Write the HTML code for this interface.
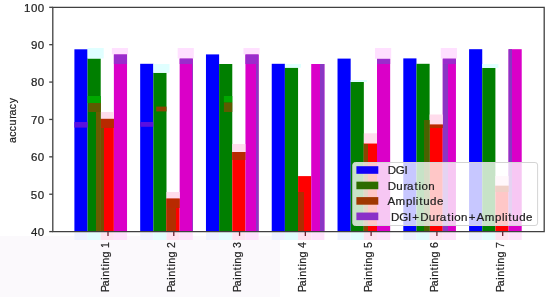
<!DOCTYPE html>
<html><head><meta charset="utf-8"><style>
html,body{margin:0;padding:0;background:#fff;}
body{width:550px;height:297px;overflow:hidden;}
svg{display:block;will-change:transform;}
text{font-family:"Liberation Sans",sans-serif;fill:#222;stroke:#222;stroke-width:0.2px;}
</style></head><body>
<svg width="550" height="297" viewBox="0 0 550 297">
<rect width="550" height="297" fill="#fff"/>
<rect x="0" y="236" width="280" height="61" fill="#fbf9fc"/>
<rect x="74.4" y="232.3" width="13.16" height="7.7" fill="#eef2ff"/>
<rect x="87.56" y="232.3" width="13.16" height="7.7" fill="#e2fdfd"/>
<rect x="100.72" y="232.3" width="13.16" height="7.7" fill="#ffe2f0"/>
<rect x="113.88" y="232.3" width="13.16" height="7.7" fill="#ffe2fb"/>
<rect x="140.18" y="232.3" width="13.16" height="7.7" fill="#eef2ff"/>
<rect x="153.34" y="232.3" width="13.16" height="7.7" fill="#e2fdfd"/>
<rect x="166.5" y="232.3" width="13.16" height="7.7" fill="#ffe2f0"/>
<rect x="179.66" y="232.3" width="13.16" height="7.7" fill="#ffe2fb"/>
<rect x="205.96" y="232.3" width="13.16" height="7.7" fill="#eef2ff"/>
<rect x="219.12" y="232.3" width="13.16" height="7.7" fill="#e2fdfd"/>
<rect x="232.28" y="232.3" width="13.16" height="7.7" fill="#ffe2f0"/>
<rect x="245.44" y="232.3" width="13.16" height="7.7" fill="#ffe2fb"/>
<rect x="271.74" y="232.3" width="13.16" height="7.7" fill="#eef2ff"/>
<rect x="284.9" y="232.3" width="13.16" height="7.7" fill="#e2fdfd"/>
<rect x="298.06" y="232.3" width="13.16" height="7.7" fill="#ffe2f0"/>
<rect x="311.22" y="232.3" width="13.16" height="7.7" fill="#ffe2fb"/>
<rect x="337.52" y="232.3" width="13.16" height="7.7" fill="#eef2ff"/>
<rect x="350.68" y="232.3" width="13.16" height="7.7" fill="#e2fdfd"/>
<rect x="363.84" y="232.3" width="13.16" height="7.7" fill="#ffe2f0"/>
<rect x="377" y="232.3" width="13.16" height="7.7" fill="#ffe2fb"/>
<rect x="403.3" y="232.3" width="13.16" height="7.7" fill="#eef2ff"/>
<rect x="416.46" y="232.3" width="13.16" height="7.7" fill="#e2fdfd"/>
<rect x="429.62" y="232.3" width="13.16" height="7.7" fill="#ffe2f0"/>
<rect x="442.78" y="232.3" width="13.16" height="7.7" fill="#ffe2fb"/>
<rect x="469.08" y="232.3" width="13.16" height="7.7" fill="#eef2ff"/>
<rect x="482.24" y="232.3" width="13.16" height="7.7" fill="#e2fdfd"/>
<rect x="495.4" y="232.3" width="13.16" height="7.7" fill="#ffe2f0"/>
<rect x="508.56" y="232.3" width="13.16" height="7.7" fill="#ffe2fb"/>
<rect x="74.4" y="49.3" width="13.16" height="182.3" fill="#0000ff"/>
<rect x="87.56" y="58.5" width="13.16" height="173.1" fill="#007f00"/>
<rect x="100.72" y="118.8" width="13.16" height="112.8" fill="#ff0000"/>
<rect x="113.88" y="54.4" width="13.16" height="177.2" fill="#da00c8"/>
<rect x="140.18" y="63.8" width="13.16" height="167.8" fill="#0000ff"/>
<rect x="153.34" y="72.8" width="13.16" height="158.8" fill="#007f00"/>
<rect x="166.5" y="198.5" width="13.16" height="33.1" fill="#ff0000"/>
<rect x="179.66" y="58.5" width="13.16" height="173.1" fill="#da00c8"/>
<rect x="205.96" y="54.4" width="13.16" height="177.2" fill="#0000ff"/>
<rect x="219.12" y="64" width="13.16" height="167.6" fill="#007f00"/>
<rect x="232.28" y="152" width="13.16" height="79.6" fill="#ff0000"/>
<rect x="245.44" y="54.4" width="13.16" height="177.2" fill="#da00c8"/>
<rect x="271.74" y="63.8" width="13.16" height="167.8" fill="#0000ff"/>
<rect x="284.9" y="67.7" width="13.16" height="163.9" fill="#007f00"/>
<rect x="298.06" y="176.1" width="13.16" height="55.5" fill="#ff0000"/>
<rect x="311.22" y="64" width="13.16" height="167.6" fill="#da00c8"/>
<rect x="337.52" y="58.6" width="13.16" height="173" fill="#0000ff"/>
<rect x="350.68" y="82" width="13.16" height="149.6" fill="#007f00"/>
<rect x="363.84" y="143.3" width="13.16" height="88.3" fill="#ff0000"/>
<rect x="377" y="58.8" width="13.16" height="172.8" fill="#da00c8"/>
<rect x="403.3" y="58.4" width="13.16" height="173.2" fill="#0000ff"/>
<rect x="416.46" y="63.8" width="13.16" height="167.8" fill="#007f00"/>
<rect x="429.62" y="124.5" width="13.16" height="107.1" fill="#ff0000"/>
<rect x="442.78" y="58.6" width="13.16" height="173" fill="#da00c8"/>
<rect x="469.08" y="49.2" width="13.16" height="182.4" fill="#0000ff"/>
<rect x="482.24" y="67.9" width="13.16" height="163.7" fill="#007f00"/>
<rect x="495.4" y="185.7" width="13.16" height="45.9" fill="#ff0000"/>
<rect x="508.56" y="49.2" width="13.16" height="182.4" fill="#da00c8"/>
<rect x="111.88" y="48" width="16.16" height="6.4" fill="#ffe0ff"/>
<rect x="113.88" y="54.4" width="13.16" height="9.6" fill="#9a2ccc"/>
<rect x="87.56" y="48" width="16.16" height="10.5" fill="#e0ffff"/>
<rect x="100.72" y="112" width="13.16" height="6.8" fill="#ffdcec"/>
<rect x="100.72" y="118.8" width="13.16" height="9.2" fill="#b82a00"/>
<rect x="177.66" y="48" width="16.16" height="10.5" fill="#ffe0ff"/>
<rect x="179.66" y="58.5" width="13.16" height="5.5" fill="#9a2ccc"/>
<rect x="192" y="64" width="0.82" height="167.6" fill="#8a36c4"/>
<rect x="153.34" y="64" width="16.16" height="8.8" fill="#e0ffff"/>
<rect x="166.5" y="192" width="13.16" height="6.5" fill="#ffdcec"/>
<rect x="166.5" y="198.5" width="13.16" height="9.5" fill="#b82a00"/>
<rect x="243.44" y="48" width="16.16" height="6.4" fill="#ffe0ff"/>
<rect x="245.44" y="54.4" width="13.16" height="9.6" fill="#9a2ccc"/>
<rect x="256" y="64" width="2.6" height="167.6" fill="#8a36c4"/>
<rect x="232.28" y="144" width="13.16" height="8" fill="#ffdcec"/>
<rect x="232.28" y="152" width="13.16" height="8" fill="#b82a00"/>
<rect x="320" y="64" width="4.38" height="167.6" fill="#8a36c4"/>
<rect x="284.9" y="64" width="16.16" height="3.7" fill="#e0ffff"/>
<rect x="375" y="48" width="16.16" height="10.8" fill="#ffe0ff"/>
<rect x="377" y="58.8" width="13.16" height="5.2" fill="#9a2ccc"/>
<rect x="350.68" y="80" width="16.16" height="2" fill="#e0ffff"/>
<rect x="363.84" y="133.3" width="13.16" height="10" fill="#ffdcec"/>
<rect x="440.78" y="48" width="16.16" height="10.6" fill="#ffe0ff"/>
<rect x="442.78" y="58.6" width="13.16" height="5.4" fill="#9a2ccc"/>
<rect x="442.78" y="64" width="5.22" height="167.6" fill="#8a36c4"/>
<rect x="429.62" y="114.5" width="13.16" height="10" fill="#ffdcec"/>
<rect x="429.62" y="124.5" width="13.16" height="3.5" fill="#b82a00"/>
<rect x="508.56" y="49.2" width="3.44" height="167.6" fill="#8a36c4"/>
<rect x="482.24" y="64" width="16.16" height="3.9" fill="#e0ffff"/>
<rect x="495.4" y="176" width="13.16" height="9.7" fill="#ffdcec"/>
<rect x="495.4" y="185.7" width="13.16" height="6.3" fill="#b82a00"/>
<rect x="166.5" y="208" width="9.5" height="23.6" fill="#b03000"/>
<rect x="298.06" y="192" width="5.94" height="39.6" fill="#b02c00"/>
<rect x="363.84" y="144" width="4.16" height="87.6" fill="#8a4600"/>
<rect x="96" y="100" width="4.72" height="131.6" fill="#6a5c00"/>
<rect x="100.72" y="128" width="3.28" height="103.6" fill="#7a4c00"/>
<rect x="424" y="120" width="5.62" height="111.6" fill="#4a6200"/>
<rect x="87.56" y="96" width="13.16" height="7" fill="#00a800"/>
<rect x="88.36" y="103" width="12.36" height="9" fill="#5e5a00"/>
<rect x="74.4" y="122" width="13.16" height="5.6" fill="#5a10e0"/>
<rect x="156.2" y="106.6" width="10.3" height="4.8" fill="#8a4400"/>
<rect x="140.18" y="122" width="13.16" height="4.8" fill="#5a10e0"/>
<rect x="223.9" y="96" width="8.38" height="6.5" fill="#00a800"/>
<rect x="223.9" y="102.5" width="8.38" height="9.5" fill="#5e5a00"/>
<path d="M52.8 7.3 H544.2 V231.6 H52.8 Z" fill="none" stroke="#404040" stroke-width="1.3"/>
<line x1="49.2" y1="231.6" x2="52.8" y2="231.6" stroke="#404040" stroke-width="1.3"/>
<text transform="translate(31.19,235.9) scale(1.09,1)" x="-0.26 6.11" y="0" font-size="10.6" xml:space="preserve">40</text>
<line x1="49.2" y1="194.22" x2="52.8" y2="194.22" stroke="#404040" stroke-width="1.3"/>
<text transform="translate(31.49,198.52) scale(1.09,1)" x="-0.58 5.82" y="0" font-size="10.6" xml:space="preserve">50</text>
<line x1="49.2" y1="156.83" x2="52.8" y2="156.83" stroke="#404040" stroke-width="1.3"/>
<text transform="translate(31.42,161.13) scale(1.09,1)" x="-0.47 5.9" y="0" font-size="10.6" xml:space="preserve">60</text>
<line x1="49.2" y1="119.45" x2="52.8" y2="119.45" stroke="#404040" stroke-width="1.3"/>
<text transform="translate(31.55,123.75) scale(1.09,1)" x="-0.61 5.77" y="0" font-size="10.6" xml:space="preserve">70</text>
<line x1="49.2" y1="82.07" x2="52.8" y2="82.07" stroke="#404040" stroke-width="1.3"/>
<text transform="translate(31.39,86.37) scale(1.09,1)" x="-0.45 5.91" y="0" font-size="10.6" xml:space="preserve">80</text>
<line x1="49.2" y1="44.68" x2="52.8" y2="44.68" stroke="#404040" stroke-width="1.3"/>
<text transform="translate(31.34,48.98) scale(1.09,1)" x="-0.43 5.96" y="0" font-size="10.6" xml:space="preserve">90</text>
<line x1="49.2" y1="7.3" x2="52.8" y2="7.3" stroke="#404040" stroke-width="1.3"/>
<text transform="translate(24.92,11.6) scale(1.09,1)" x="-0.92 5.49 11.86" y="0" font-size="10.6" xml:space="preserve">100</text>
<line x1="108" y1="231.6" x2="108" y2="235.9" stroke="#6a2030" stroke-width="1.3"/>
<text transform="translate(109.1,290.6) rotate(-90) scale(1,1.09)" x="-1.34 4.34 10.94 13.75 20.3 23.98 26.79 33.05 39.23 42.58" y="0" font-size="10.6" xml:space="preserve">Painting 1</text>
<line x1="173.78" y1="231.6" x2="173.78" y2="235.9" stroke="#6a2030" stroke-width="1.3"/>
<text transform="translate(174.88,290.6) rotate(-90) scale(1,1.09)" x="-1.34 4.34 10.94 13.75 20.3 23.98 26.79 33.05 39.23 42.51" y="0" font-size="10.6" xml:space="preserve">Painting 2</text>
<line x1="239.56" y1="231.6" x2="239.56" y2="235.9" stroke="#6a2030" stroke-width="1.3"/>
<text transform="translate(240.66,290.6) rotate(-90) scale(1,1.09)" x="-1.34 4.34 10.94 13.75 20.3 23.98 26.79 33.05 39.23 42.65" y="0" font-size="10.6" xml:space="preserve">Painting 3</text>
<line x1="305.34" y1="231.6" x2="305.34" y2="235.9" stroke="#6a2030" stroke-width="1.3"/>
<text transform="translate(306.44,290.6) rotate(-90) scale(1,1.09)" x="-1.34 4.34 10.94 13.75 20.3 23.98 26.79 33.05 39.23 42.64" y="0" font-size="10.6" xml:space="preserve">Painting 4</text>
<line x1="371.12" y1="231.6" x2="371.12" y2="235.9" stroke="#6a2030" stroke-width="1.3"/>
<text transform="translate(372.22,290.6) rotate(-90) scale(1,1.09)" x="-1.34 4.34 10.94 13.75 20.3 23.98 26.79 33.05 39.23 42.6" y="0" font-size="10.6" xml:space="preserve">Painting 5</text>
<line x1="436.9" y1="231.6" x2="436.9" y2="235.9" stroke="#6a2030" stroke-width="1.3"/>
<text transform="translate(438,290.6) rotate(-90) scale(1,1.09)" x="-1.34 4.34 10.94 13.75 20.3 23.98 26.79 33.05 39.23 42.64" y="0" font-size="10.6" xml:space="preserve">Painting 6</text>
<line x1="502.68" y1="231.6" x2="502.68" y2="235.9" stroke="#6a2030" stroke-width="1.3"/>
<text transform="translate(503.78,290.6) rotate(-90) scale(1,1.09)" x="-1.34 4.34 10.94 13.75 20.3 23.98 26.79 33.05 39.23 42.62" y="0" font-size="10.6" xml:space="preserve">Painting 7</text>
<text transform="translate(16.4,142.2) rotate(-90) scale(1,1.09)" x="-0.86 5.51 11 16.72 23.34 26.71 33.08 38.91" y="0" font-size="10.6" xml:space="preserve">accuracy</text>
<rect x="352.8" y="162.5" width="184.8" height="63" rx="2.5" fill="#fff" fill-opacity="0.78" stroke="#d4d4d4" stroke-width="1"/>
<rect x="356.4" y="166.2" width="21.9" height="7.6" fill="#1000f8"/>
<text transform="translate(388.67,174.4) scale(1.09,1)" x="-0.94 6.47 14.47" y="0" font-size="10.6" xml:space="preserve">DGI</text>
<rect x="356.4" y="181.65" width="21.9" height="7.6" fill="#2d6b00"/>
<text transform="translate(388.67,189.85) scale(1.09,1)" x="-0.94 6.92 13.54 16.91 23.76 27.43 30.11 36.36" y="0" font-size="10.6" xml:space="preserve">Duration</text>
<rect x="356.4" y="197.1" width="21.9" height="7.6" fill="#a03800"/>
<text transform="translate(387.69,205.3) scale(1.09,1)" x="-0.2 7.25 16.79 23.06 25.85 28.87 32.53 38.83 45.16" y="0" font-size="10.6" xml:space="preserve">Amplitude</text>
<rect x="356.4" y="212.55" width="21.9" height="7.6" fill="#8a30c8"/>
<text transform="translate(392.13,220.75) scale(1.09,1)" x="-0.94 6.47 14.47 18.51 25.83 33.7 40.31 43.68 50.53 54.21 56.89 63.13 70.33 77.49 84.93 94.48 100.75 103.53 106.55 110.21 116.52 122.85" y="0" font-size="10.6" xml:space="preserve">DGI+Duration+Amplitude</text>
</svg>
</body></html>
